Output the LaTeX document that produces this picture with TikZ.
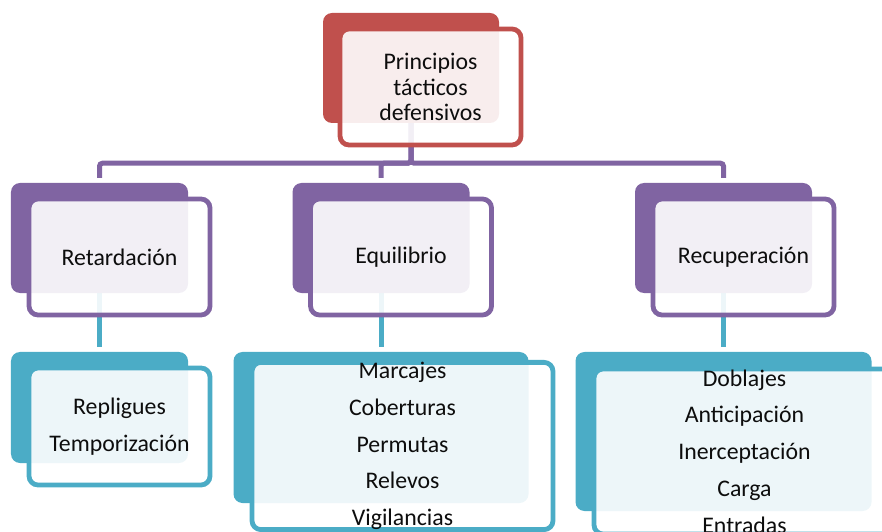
\documentclass[tikz,border=0pt]{standalone}
\usepackage{fontspec}
\setmainfont{Carlito}
\usepackage{tikz}
\usetikzlibrary{backgrounds}
\definecolor{rojo}{RGB}{192,80,77}
\definecolor{lila}{RGB}{128,100,162}
\definecolor{turq}{RGB}{75,172,198}

\begin{document}
\begin{tikzpicture}[x=1bp,y=-1bp,
  fondo/.style={rectangle,rounded corners=9bp,fill=#1,inner sep=0pt},
  caja/.style={rectangle,rounded corners=9bp,draw=#1,line width=4.8bp,fill=white,
    fill opacity=0.9,text opacity=1,inner sep=0pt,align=center,text=black!95,
    font=\fontsize{23.8bp}{25.5bp}\selectfont},
  lista/.style={font=\fontsize{23.8bp}{36.7bp}\selectfont},
  enlace/.style={line width=5bp,draw=#1,rounded corners=3bp,shorten >=5bp}]
  \useasboundingbox (0,0) rectangle (882,532);
  \clip (0,0) rectangle (882,532);
  % raiz
  \node[fondo=rojo,minimum width=176bp,minimum height=110bp] (raizb) at (411,68) {};
  \node[caja=rojo,minimum width=181bp,minimum height=116bp] (raiz) at (430.5,87) {Principios\\tácticos\\defensivos};
  % segundo nivel
  \node[fondo=lila,minimum width=177bp,minimum height=110bp] (retb) at (99.5,238) {};
  \node[caja=lila,minimum width=181bp,minimum height=116bp] (ret) at (119.5,257) {Retardación};
  \node[fondo=lila,minimum width=177bp,minimum height=110bp] (equb) at (381,238) {};
  \node[caja=lila,minimum width=181bp,minimum height=116bp] (equ) at (401,257) {Equilibrio};
  \node[fondo=lila,minimum width=177bp,minimum height=110bp] (recb) at (723.5,238) {};
  \node[caja=lila,minimum width=181bp,minimum height=116bp] (rec) at (743.5,257) {Recuperación};
  % tercer nivel
  \node[fondo=turq,minimum width=177bp,minimum height=111bp] (retlb) at (99.5,407.5) {};
  \node[caja=turq,lista,minimum width=181bp,minimum height=117bp] (retl) at (119.5,426.5) {Repligues\\Temporización};
  \node[fondo=turq,minimum width=295bp,minimum height=151bp] (equlb) at (381,427.5) {};
  \node[caja=turq,lista,minimum width=301bp,minimum height=154bp] (equl) at (402.5,446) {Marcajes\\Coberturas\\Permutas\\Relevos\\Vigilancias};
  \node[fondo=turq,minimum width=296bp,minimum height=159bp] (reclb) at (723.5,431.5) {};
  \node[caja=turq,lista,minimum width=301bp,minimum height=165bp] (recl) at (744.5,451.5) {Doblajes\\Anticipación\\Inerceptación\\Carga\\Entradas};
  % conectores
  \begin{scope}[on background layer]
    \draw[enlace=lila] (raizb.south) -- ++(0,40) -| (retb.north);
    \draw[enlace=lila] (raizb.south) -- ++(0,40) -| (equb.north);
    \draw[enlace=lila] (raizb.south) -- ++(0,40) -| (recb.north);
    \draw[enlace=turq] (retb.south) -- (retlb.north);
    \draw[enlace=turq] (equb.south) -- (equlb.north);
    \draw[enlace=turq] (recb.south) -- (reclb.north);
  \end{scope}
\end{tikzpicture}
\end{document}
